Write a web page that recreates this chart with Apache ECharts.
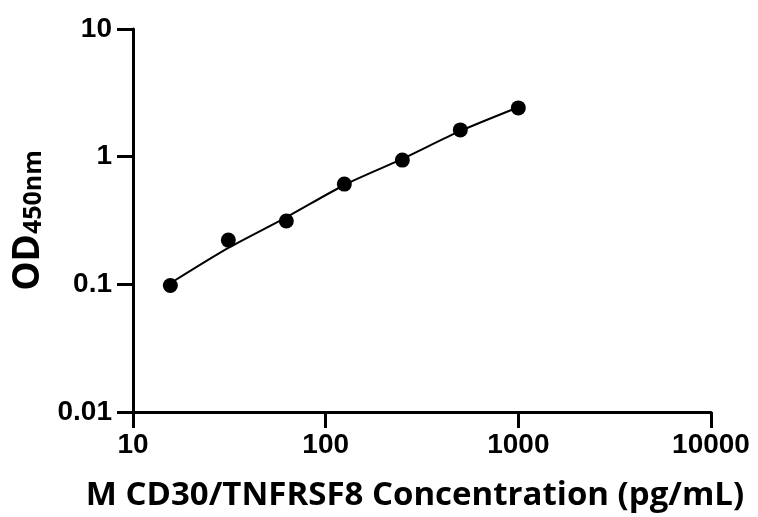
<!DOCTYPE html>
<html><head><meta charset="utf-8">
<script src="https://cdn.jsdelivr.net/npm/echarts@6/dist/echarts.min.js"></script>
<style>html,body{margin:0;padding:0;background:#fff}#c{width:758px;height:517px}</style>
</head><body><div id="c"></div>
<script>
const concentrations = [15.625, 31.25, 62.5, 125, 250, 500, 1000];
const odValues = [0.098, 0.222, 0.313, 0.61, 0.94, 1.62, 2.41];
const fitValues = [0.102, 0.193, 0.335, 0.60, 0.96, 1.59, 2.44];
const xTicks = [10, 100, 1000, 10000];
const yTicks = [0.01, 0.1, 1, 10];

const chart = echarts.init(document.getElementById('c'));
const axisFont = {fontFamily: 'Liberation Sans, Arial, sans-serif', fontWeight: 'bold', fontSize: 28, color: '#000'};
chart.setOption({
  animation: false,
  grid: {left: 133, top: 29, right: 47, bottom: 105, containLabel: false},
  xAxis: {
    type: 'log', logBase: 10, min: xTicks[0], max: xTicks[xTicks.length-1],
    axisLine: {lineStyle: {color: '#000', width: 3}},
    axisTick: {show: true, length: 16, lineStyle: {color: '#000', width: 3}},
    minorTick: {show: false},
    splitLine: {show: false},
    axisLabel: Object.assign({margin: 19, formatter: v => String(Math.round(v))}, axisFont),
    name: 'M CD30/TNFRSF8 Concentration (pg/mL)',
    nameLocation: 'middle', nameGap: 67,
    nameTextStyle: {fontFamily: 'Open Sans, Noto Sans, sans-serif', fontWeight: 'bold', fontSize: 33, color: '#000', padding: [0, 14, 0, 0]}
  },
  yAxis: {
    type: 'log', logBase: 10, min: yTicks[0], max: yTicks[yTicks.length-1],
    axisLine: {lineStyle: {color: '#000', width: 3}},
    axisTick: {show: true, length: 16, lineStyle: {color: '#000', width: 3}},
    splitLine: {show: false},
    axisLabel: Object.assign({margin: 21, formatter: v => {
      const e = Math.round(Math.log10(v));
      return e >= 0 ? String(Math.pow(10, e)) : (Math.pow(10, e)).toFixed(-e);
    }}, axisFont),
    name: '{a|OD}{b|450nm}',
    nameLocation: 'middle', nameGap: 86, nameRotate: 90,
    nameTextStyle: {
      rich: {
        a: {fontFamily: 'Open Sans, Noto Sans, sans-serif', fontWeight: 'bold', fontSize: 37, lineHeight: 40, color: '#000', verticalAlign: 'bottom'},
        b: {fontFamily: 'Open Sans, Noto Sans, sans-serif', fontWeight: 'bold', fontSize: 25, lineHeight: 30, color: '#000', verticalAlign: 'bottom'}
      }
    }
  },
  series: [
    {type: 'line', data: concentrations.map((c, i) => [c, fitValues[i]]), smooth: 0.25, showSymbol: false,
     lineStyle: {color: '#000', width: 2}, z: 2},
    {type: 'scatter', data: concentrations.map((c, i) => [c, odValues[i]]), symbol: 'circle', symbolSize: 15,
     itemStyle: {color: '#000', opacity: 1}, z: 3}
  ]
});
</script></body></html>
